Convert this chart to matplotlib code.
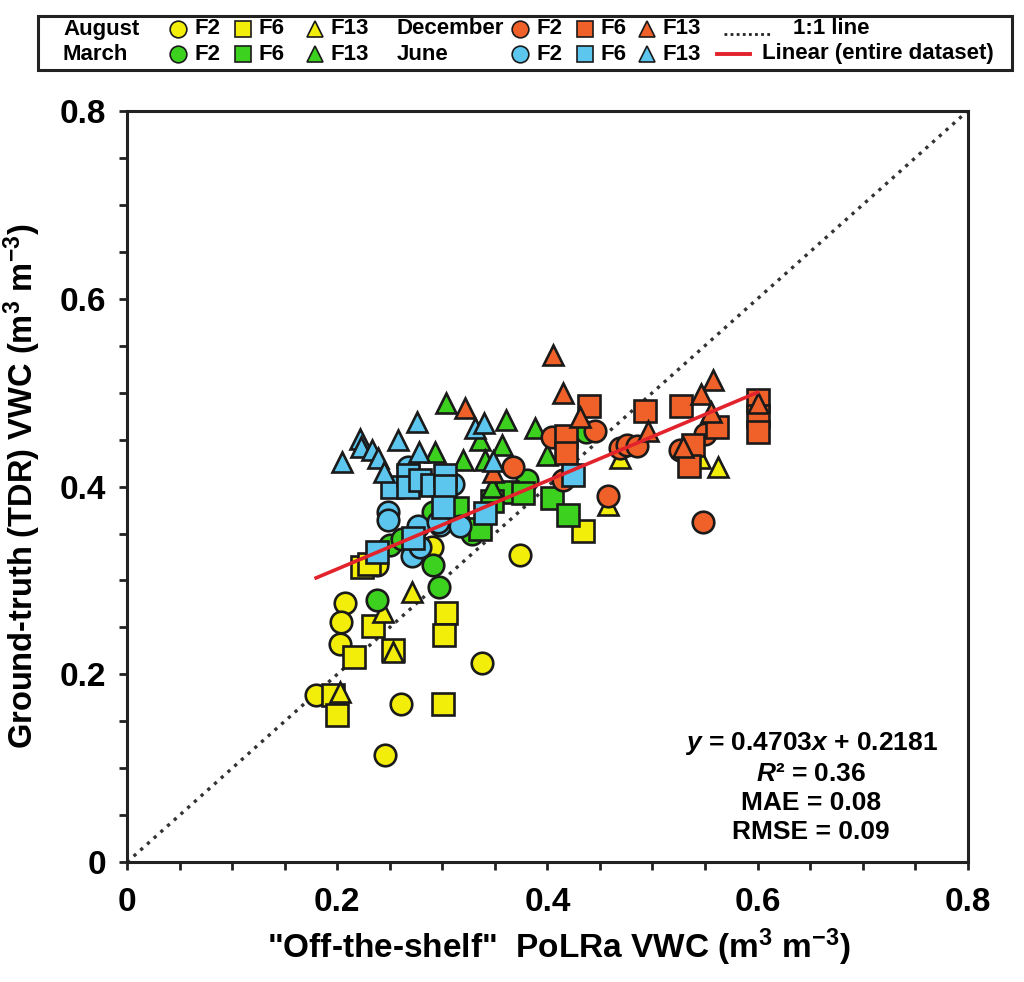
import matplotlib.pyplot as plt
import numpy as np
from matplotlib.lines import Line2D
from matplotlib.patches import Rectangle

plt.rcParams['font.family'] = ['Liberation Sans', 'DejaVu Sans']
plt.rcParams['font.weight'] = 'bold'
plt.rcParams['mathtext.fontset'] = 'custom'
plt.rcParams['mathtext.rm'] = 'Liberation Sans:bold'
plt.rcParams['mathtext.bf'] = 'Liberation Sans:bold'
plt.rcParams['mathtext.it'] = 'Liberation Sans:bold:italic'

# August (yellow)
aug_f2_x = [0.207, 0.204, 0.203, 0.180, 0.261, 0.246, 0.338, 0.374, 0.238, 0.290]
aug_f2_y = [0.276, 0.256, 0.232, 0.178, 0.168, 0.114, 0.212, 0.327, 0.316, 0.336]
aug_f6_x = [0.304, 0.302, 0.234, 0.216, 0.253, 0.196, 0.200, 0.301, 0.224, 0.434, 0.230]
aug_f6_y = [0.265, 0.242, 0.252, 0.218, 0.226, 0.178, 0.157, 0.168, 0.314, 0.353, 0.318]
aug_f13_x = [0.271, 0.244, 0.203, 0.253, 0.458, 0.469, 0.545, 0.562]
aug_f13_y = [0.288, 0.266, 0.181, 0.224, 0.380, 0.430, 0.430, 0.421]

# March (green)
mar_f2_x = [0.238, 0.297, 0.291, 0.250, 0.262, 0.291, 0.381, 0.437, 0.328, 0.306]
mar_f2_y = [0.279, 0.293, 0.317, 0.338, 0.344, 0.373, 0.407, 0.458, 0.350, 0.366]
mar_f6_x = [0.362, 0.377, 0.404, 0.420, 0.336, 0.314, 0.347]
mar_f6_y = [0.394, 0.393, 0.388, 0.370, 0.355, 0.377, 0.385]
mar_f13_x = [0.293, 0.320, 0.304, 0.336, 0.361, 0.357, 0.388, 0.400, 0.341, 0.347, 0.600]
mar_f13_y = [0.437, 0.428, 0.489, 0.450, 0.471, 0.444, 0.462, 0.434, 0.428, 0.400, 0.490]

# December (orange)
dec_f2_x = [0.445, 0.469, 0.476, 0.485, 0.550, 0.458, 0.548, 0.415, 0.526, 0.404, 0.367]
dec_f2_y = [0.459, 0.441, 0.444, 0.443, 0.456, 0.390, 0.362, 0.407, 0.439, 0.453, 0.421]
dec_f6_x = [0.440, 0.493, 0.527, 0.561, 0.539, 0.535, 0.600, 0.600, 0.600, 0.418, 0.418]
dec_f6_y = [0.486, 0.481, 0.486, 0.463, 0.444, 0.422, 0.492, 0.475, 0.458, 0.454, 0.436]
dec_f13_x = [0.405, 0.415, 0.322, 0.431, 0.348, 0.496, 0.558, 0.546, 0.556, 0.529, 0.600]
dec_f13_y = [0.540, 0.500, 0.484, 0.474, 0.416, 0.459, 0.514, 0.499, 0.479, 0.442, 0.489]

# June (light blue)
jun_f2_x = [0.248, 0.248, 0.277, 0.271, 0.279, 0.298, 0.317, 0.267, 0.310, 0.296]
jun_f2_y = [0.373, 0.364, 0.358, 0.326, 0.336, 0.359, 0.358, 0.421, 0.403, 0.362]
jun_f6_x = [0.252, 0.267, 0.267, 0.279, 0.290, 0.303, 0.303, 0.301, 0.272, 0.238, 0.341, 0.424]
jun_f6_y = [0.400, 0.412, 0.400, 0.407, 0.402, 0.412, 0.401, 0.378, 0.345, 0.330, 0.372, 0.412]
jun_f13_x = [0.205, 0.222, 0.223, 0.233, 0.239, 0.245, 0.258, 0.276, 0.278, 0.331, 0.340, 0.348]
jun_f13_y = [0.426, 0.451, 0.442, 0.439, 0.430, 0.416, 0.450, 0.469, 0.437, 0.462, 0.468, 0.427]

slope, intercept = 0.4703, 0.2181
fit_x = [0.18, 0.60]

yellow = '#F2EE0A'
green = '#3DD11F'
orange = '#F0612A'
blue = '#5CC6EE'
red = '#E2232C'
edge = '#1a1a1a'

fig = plt.figure(figsize=(10.24, 9.82), dpi=100)
ax = fig.add_axes([0.124, 0.122, 0.821, 0.765])

# 1:1 line
ax.plot([0, 0.8], [0, 0.8], color='#333333', linestyle=(0, (1, 1.7)), linewidth=2.4, zorder=1)

groups = [
    (aug_f2_x, aug_f2_y, 'o', yellow), (aug_f6_x, aug_f6_y, 's', yellow), (aug_f13_x, aug_f13_y, '^', yellow),
    (mar_f2_x, mar_f2_y, 'o', green), (mar_f6_x, mar_f6_y, 's', green), (mar_f13_x, mar_f13_y, '^', green),
    (dec_f2_x, dec_f2_y, 'o', orange), (dec_f6_x, dec_f6_y, 's', orange), (dec_f13_x, dec_f13_y, '^', orange),
    (jun_f2_x, jun_f2_y, 'o', blue), (jun_f6_x, jun_f6_y, 's', blue), (jun_f13_x, jun_f13_y, '^', blue),
]
sizes = {'o': 15.5, 's': 16, '^': 14.5}
for gx, gy, m, c in groups:
    ax.plot(gx, gy, linestyle='none', marker=m, markersize=sizes[m], markerfacecolor=c,
            markeredgecolor=edge, markeredgewidth=1.9, zorder=3)

fx = np.array(fit_x)
ax.plot(fx, slope * fx + intercept, color=red, linewidth=2.6, zorder=4)

ax.set_xlim(0, 0.8)
ax.set_ylim(0, 0.8)
ax.set_xticks([0, 0.2, 0.4, 0.6, 0.8])
ax.set_yticks([0, 0.2, 0.4, 0.6, 0.8])
ax.set_xticklabels(['0', '0.2', '0.4', '0.6', '0.8'])
ax.set_yticklabels(['0', '0.2', '0.4', '0.6', '0.8'])
ax.set_xticks(np.arange(0, 0.81, 0.05), minor=True)
ax.set_yticks(np.arange(0, 0.81, 0.05), minor=True)
ax.tick_params(which='both', direction='out', length=6, width=2, color='#222222')
ax.tick_params(axis='x', which='major', labelsize=24, pad=12)
ax.tick_params(axis='y', which='major', labelsize=24, pad=9)
for s in ax.spines.values():
    s.set_linewidth(2.2)
    s.set_color('#222222')

ax.set_xlabel('"Off-the-shelf"  PoLRa VWC (m$^{3}$ m$^{-3}$)', fontsize=24, fontweight='bold', labelpad=13)
ax.set_ylabel('Ground-truth (TDR) VWC (m$^{3}$ m$^{-3}$)', fontsize=23.5, fontweight='bold', labelpad=12)
ax.xaxis.set_label_coords(0.514, -0.085)

ax.text(0.651, 0.08, '$y$ = 0.4703$x$ + 0.2181\n$R$² = 0.36\nMAE = 0.08\nRMSE = 0.09',
        ha='center', va='center', fontsize=19, linespacing=1.25)

# legend box drawn in figure pixel coordinates
W, H = 1024, 982


def px(x):
    return x / W


def py(y):
    return 1 - y / H


fig.patches.append(Rectangle((px(38), py(70)), 974 / W, 54 / H, transform=fig.transFigure,
                             fill=False, edgecolor='#222222', linewidth=2.2))

leg_fs = 16
months = [('August', 63, 29, yellow), ('March', 63, 54, green),
          ('December', 397, 29, orange), ('June', 397, 54, blue)]
for name, lx, ly, col in months:
    fig.text(px(lx), py(ly), name, fontsize=leg_fs, va='center', ha='left')
    if lx == 63:
        spots = [('o', 178, 'F2'), ('s', 243, 'F6'), ('^', 315, 'F13')]
    else:
        spots = [('o', 520, 'F2'), ('s', 585, 'F6'), ('^', 647, 'F13')]
    for m, mx, lab in spots:
        fig.add_artist(Line2D([px(mx)], [py(ly)], transform=fig.transFigure, marker=m,
                              markersize=12 if m != '^' else 11, markerfacecolor=col,
                              markeredgecolor=edge, markeredgewidth=1.2, linestyle='none'))
        fig.text(px(mx + 16), py(ly), lab, fontsize=leg_fs, va='center', ha='left')

fig.add_artist(Line2D([px(724), px(770)], [py(34), py(34)], transform=fig.transFigure,
                      color='#222222', linestyle=(0, (1, 1.2)), linewidth=2))
fig.text(px(793), py(29), '1:1 line', fontsize=leg_fs, va='center', ha='left')
fig.add_artist(Line2D([px(717), px(750)], [py(54), py(54)], transform=fig.transFigure,
                      color=red, linewidth=2.8))
fig.text(px(762), py(54), 'Linear (entire dataset)', fontsize=leg_fs, va='center', ha='left')

fig.savefig('out.png', dpi=100)
